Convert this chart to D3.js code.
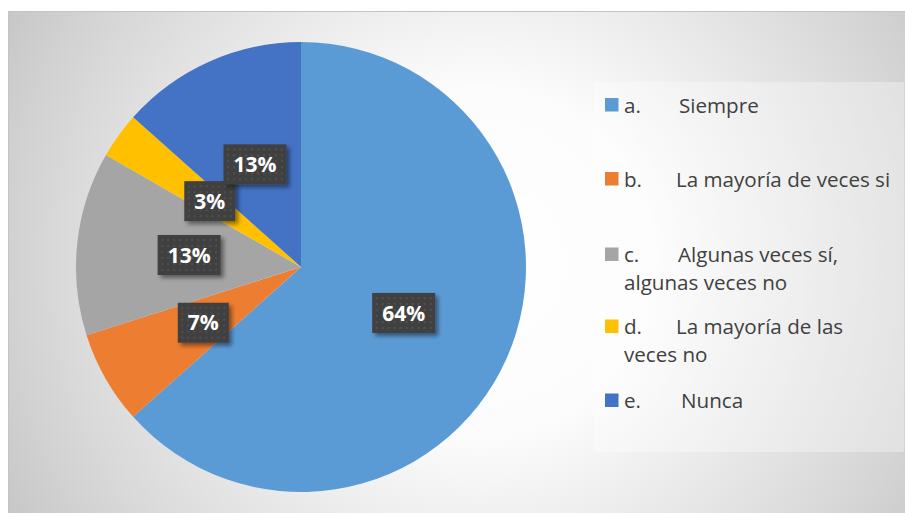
<!DOCTYPE html>
<html>
<head>
<meta charset="utf-8">
<script src="https://cdn.jsdelivr.net/npm/d3@7"></script>
<style>
  html, body { margin: 0; padding: 0; background: #ffffff; }
  svg { display: block; }
</style>
</head>
<body>
<svg id="chart" width="905" height="513"></svg>
<script>
// ---- data ----
const categories = ["Siempre", "La mayoría de veces si", "Algunas veces sí, algunas veces no", "La mayoría de las veces no", "Nunca"];
const values = [63.4, 6.7, 13.2, 3.3, 13.4];
const valueLabels = ["64%", "7%", "13%", "3%", "13%"];
const legendKeys = ["a.", "b.", "c.", "d.", "e."];
const legendLines = [
  ["Siempre"],
  ["La mayoría de veces si"],
  ["Algunas veces sí,", "algunas veces no"],
  ["La mayoría de las", "veces no"],
  ["Nunca"]
];
const colors = ["#5B9BD5", "#ED7D31", "#A5A5A5", "#FFC000", "#4472C4"];

// ---- layout ----
const W = 905, H = 513;
const cx = 301, cy = 267, R = 225;
const svg = d3.select("#chart");
const defs = svg.append("defs");

const bg = defs.append("radialGradient").attr("id", "bgGrad")
  .attr("gradientUnits", "userSpaceOnUse")
  .attr("cx", 480).attr("cy", 262).attr("r", 540);
[[0, "#ffffff"], [0.32, "#fcfcfc"], [0.46, "#f1f1f1"], [0.78, "#d9d9d9"], [0.88, "#d1d1d1"], [1, "#c6c6c6"]]
  .forEach(([o, c]) => bg.append("stop").attr("offset", o).attr("stop-color", c));

const pat = defs.append("pattern").attr("id", "dots")
  .attr("patternUnits", "userSpaceOnUse").attr("width", 6).attr("height", 6);
pat.append("rect").attr("width", 6).attr("height", 6).attr("fill", "#404040");
pat.append("circle").attr("cx", 3).attr("cy", 3).attr("r", 0.9).attr("fill", "#585858");

const shadow = defs.append("filter").attr("id", "shadow")
  .attr("x", "-30%").attr("y", "-30%").attr("width", "170%").attr("height", "170%");
shadow.append("feDropShadow").attr("dx", 3).attr("dy", 3).attr("stdDeviation", 2.2)
  .attr("flood-color", "#000").attr("flood-opacity", 0.45);

// chart area
svg.append("rect").attr("x", 8.5).attr("y", 11.5).attr("width", 900).attr("height", 510)
  .attr("fill", "url(#bgGrad)").attr("stroke", "#c4c4c4").attr("stroke-width", 1);

// pie
const pie = d3.pie().sort(null).value(d => d)(values);
const arc = d3.arc().innerRadius(0).outerRadius(R);
const g = svg.append("g").attr("transform", `translate(${cx},${cy})`);
g.selectAll("path.slice").data(pie).join("path")
  .attr("class", "slice")
  .attr("d", arc)
  .attr("fill", (d, i) => colors[i]);

// data labels
const lbl = g.selectAll("g.lbl").data(pie).join("g")
  .attr("class", "lbl")
  .attr("transform", d => `translate(${arc.centroid(d)})`);
const lblRect = lbl.append("rect").attr("fill", "url(#dots)").attr("filter", "url(#shadow)");
const lblText = lbl.append("text")
  .attr("text-anchor", "middle")
  .attr("dy", "0.36em")
  .attr("font-family", "'Open Sans', Lato, sans-serif")
  .attr("font-weight", 700)
  .attr("font-size", 21)
  .attr("fill", "#ffffff")
  .text((d, i) => valueLabels[i]);
lblText.each(function (d, i) {
  const bb = this.getBBox();
  const w = bb.width + 20, h = 40;
  d3.select(this.parentNode).select("rect")
    .attr("x", -w / 2).attr("y", -h / 2).attr("width", w).attr("height", h);
});

// legend
svg.append("rect").attr("x", 594).attr("y", 82).attr("width", 310).attr("height", 370)
  .attr("fill", "#ffffff").attr("fill-opacity", 0.32);

const legendY = [112.5, 186.5, 262, 334, 408];
const tabX = [679, 676, 678, 676, 681];
const leg = svg.append("g")
  .attr("font-family", "'Open Sans', Lato, sans-serif")
  .attr("font-size", 20.6)
  .attr("fill", "#404040");
categories.forEach((c, i) => {
  const y = legendY[i];
  leg.append("rect").attr("x", 605).attr("y", y - 14.5).attr("width", 13.5).attr("height", 13.5)
    .attr("fill", colors[i]);
  const t = leg.append("text").attr("y", y);
  t.append("tspan").attr("x", 624).text(legendKeys[i]);
  legendLines[i].forEach((line, j) => {
    if (j === 0) t.append("tspan").attr("x", tabX[i]).attr("y", y).text(line);
    else t.append("tspan").attr("x", 624).attr("y", y + 28 * j).text(line);
  });
});
</script>
</body>
</html>
